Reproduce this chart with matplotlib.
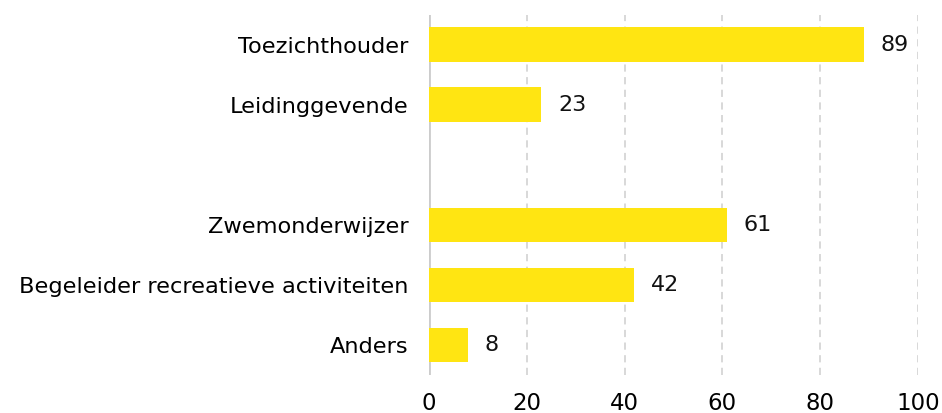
import matplotlib.pyplot as plt

categories = ["Toezichthouder", "Leidinggevende", "", "Zwemonderwijzer",
              "Begeleider recreatieve activiteiten", "Anders"]
values = [89, 23, None, 61, 42, 8]
xticks = [0, 20, 40, 60, 80, 100]

plt.rcParams['font.family'] = ['DejaVu Sans']

fig = plt.figure(figsize=(9.42, 4.13), dpi=100)
ax = fig.add_axes([0.4554, 0.092, 0.519, 0.872])

pos = [i for i, v in enumerate(values) if v is not None]
vals = [v for v in values if v is not None]
ax.barh(pos, vals, height=0.58, color='#FFE512', zorder=3)

for p, v in zip(pos, vals):
    ax.text(v + 3.4, p, str(v), va='center', ha='left', fontsize=16, color='#111111')

ax.set_xlim(0, 100)
ax.set_ylim(5.5, -0.5)
ax.set_xticks(xticks)
ax.set_xticklabels([str(t) for t in xticks], fontsize=16.5)
ax.set_yticks(range(len(categories)))
ax.set_yticklabels(categories, fontsize=16.2)
ax.tick_params(length=0)
ax.tick_params(axis='x', pad=12)
ax.tick_params(axis='y', pad=15)

for t in xticks[1:]:
    ax.axvline(t, color='#d6d6d6', lw=1.3, ls=(0, (4, 3)), zorder=1)
ax.axvline(0, color='#cccccc', lw=2, zorder=2)

for s in ax.spines.values():
    s.set_visible(False)

fig.savefig('out.png', dpi=100)
